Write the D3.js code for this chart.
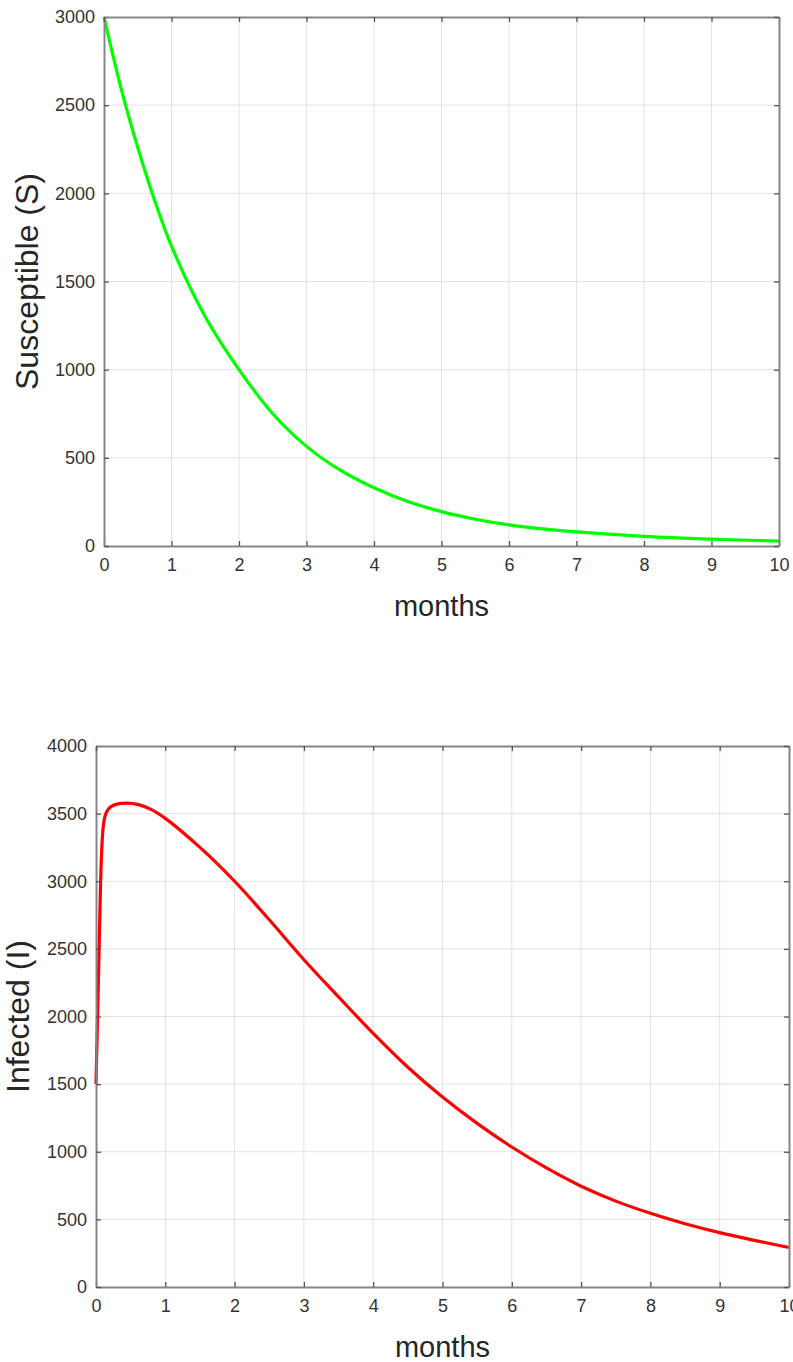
<!DOCTYPE html>
<meta charset="utf-8">
<style>
body { margin: 0; background: #fff; }
svg { display: block; font-family: "Liberation Sans", Arial, Helvetica, sans-serif; }
.tick text { fill: #333; }
</style>
<svg width="793" height="1362"></svg>
<script src="https://d3js.org/d3.v7.min.js"></script>
<script>

// values
var monthsS = [0, 0.25, 0.5, 0.75, 1, 1.5, 2, 2.5, 3, 3.5, 4, 4.5, 5, 5.5, 6, 6.5, 7, 8, 9, 10];
var susceptible = [3000, 2600, 2260, 1960, 1700, 1300, 1000, 750, 565, 430, 330, 252, 195, 152, 120, 97, 80, 55, 39, 28];

var monthsI = [0, 0.025, 0.05, 0.075, 0.1, 0.125, 0.15, 0.2, 0.3, 0.45, 0.6, 0.8, 1, 1.5, 2, 2.5, 3, 3.5,
               4, 4.5, 5, 5.5, 6, 6.5, 7, 7.5, 8, 8.5, 9, 9.5, 10];
var infected = [1500, 2050, 2620, 3130, 3380, 3470, 3510, 3545, 3570, 3578, 3568, 3530, 3465, 3250, 3000, 2715, 2420, 2145,
                1875, 1625, 1405, 1210, 1035, 880, 745, 635, 545, 468, 402, 345, 292];

var xTicks = d3.range(0, 11);
var sTicks = d3.range(0, 3001, 500);
var iTicks = d3.range(0, 4001, 500);

var svg = d3.select("svg");

drawPanel({
  box: {left: 104, right: 779, top: 17, bottom: 546},
  xs: monthsS, ys: susceptible, yMax: 3000, yTicks: sTicks,
  color: "#00ff00", ylabel: "Susceptible (S)", ylabelX: 27
});

drawPanel({
  box: {left: 96, right: 789, top: 746, bottom: 1287},
  xs: monthsI, ys: infected, yMax: 4000, yTicks: iTicks,
  color: "#ff0000", ylabel: "Infected (I)", ylabelX: 18
});

function drawPanel(o) {
  var b = o.box;
  var x = d3.scaleLinear().domain([0, 10]).range([b.left, b.right]);
  var y = d3.scaleLinear().domain([0, o.yMax]).range([b.bottom, b.top]);
  var g = svg.append("g");

  // grid
  g.append("g").selectAll("line").data(xTicks.slice(1, -1)).enter().append("line")
      .attr("x1", x).attr("x2", x).attr("y1", b.top).attr("y2", b.bottom)
      .attr("stroke", "#e2e2e2").attr("stroke-width", 1);
  g.append("g").selectAll("line").data(o.yTicks.slice(1, -1)).enter().append("line")
      .attr("y1", y).attr("y2", y).attr("x1", b.left).attr("x2", b.right)
      .attr("stroke", "#e2e2e2").attr("stroke-width", 1);

  // the curve
  var line = d3.line()
      .x(function(d, i) { return x(o.xs[i]); })
      .y(function(d) { return y(d); })
      .curve(d3.curveCatmullRom.alpha(0.5));
  g.append("path")
      .datum(o.ys)
      .attr("d", line)
      .attr("fill", "none")
      .attr("stroke", o.color)
      .attr("stroke-width", 3.2)
      .attr("stroke-linejoin", "round");

  // axes, ticks inside on all four sides like a boxed matlab plot
  var fmt = d3.format("d");
  var bottom = g.append("g")
      .attr("transform", "translate(0," + b.bottom + ")")
      .call(d3.axisBottom(x).tickValues(xTicks).tickFormat(fmt).tickSize(-5).tickPadding(12).tickSizeOuter(0));
  var left = g.append("g")
      .attr("transform", "translate(" + b.left + ",0)")
      .call(d3.axisLeft(y).tickValues(o.yTicks).tickFormat(fmt).tickSize(-5).tickPadding(9).tickSizeOuter(0));
  g.append("g")
      .attr("transform", "translate(0," + b.top + ")")
      .call(d3.axisTop(x).tickValues(xTicks).tickSize(-5).tickFormat("").tickSizeOuter(0));
  g.append("g")
      .attr("transform", "translate(" + b.right + ",0)")
      .call(d3.axisRight(y).tickValues(o.yTicks).tickSize(-5).tickFormat("").tickSizeOuter(0));

  g.selectAll(".domain").attr("stroke", "#858585").attr("stroke-width", 2);
  g.selectAll(".tick line").attr("stroke", "#555").attr("stroke-width", 1.3);
  bottom.attr("font-family", null).selectAll(".tick text").attr("font-size", 18);
  left.attr("font-family", null).selectAll(".tick text").attr("font-size", 18);

  g.append("text")
      .attr("x", (b.left + b.right) / 2)
      .attr("y", b.bottom + 70)
      .attr("text-anchor", "middle")
      .attr("font-size", 29)
      .attr("fill", "#262626")
      .text("months");

  g.append("text")
      .attr("transform", "translate(" + o.ylabelX + "," + (b.top + b.bottom) / 2 + ") rotate(-90)")
      .attr("text-anchor", "middle")
      .attr("dy", "0.35em")
      .attr("font-size", 32)
      .attr("fill", "#262626")
      .text(o.ylabel);
}

</script>
